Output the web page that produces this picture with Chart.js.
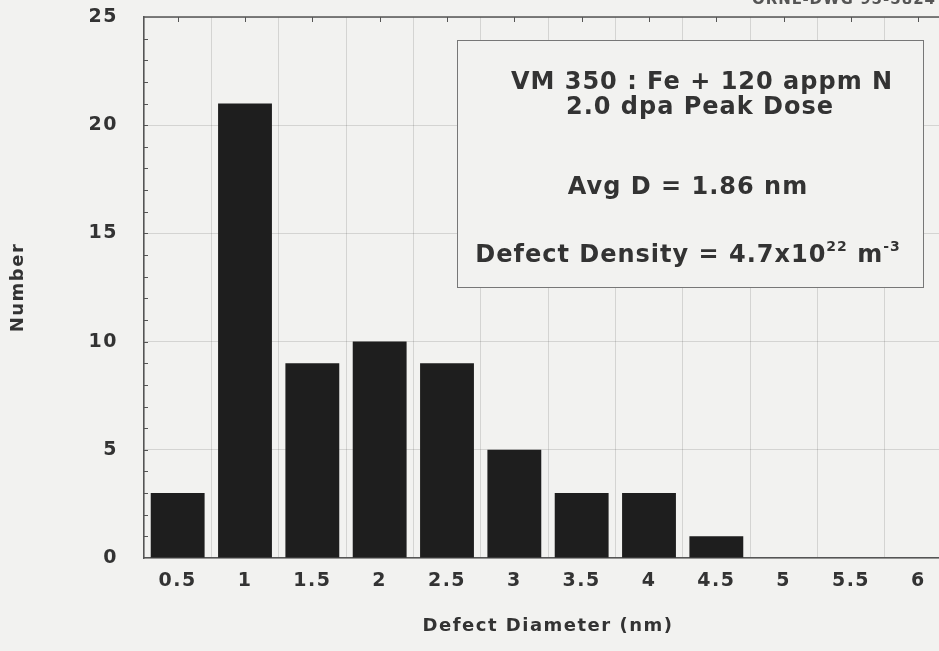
<!DOCTYPE html>
<html>
<head>
<meta charset="utf-8">
<script src="https://cdn.jsdelivr.net/npm/chart.js@4"></script>
<style>
  html, body { margin: 0; padding: 0; background: #f2f2f0; overflow: hidden; }
  canvas { display: block; }
</style>
</head>
<body>
<canvas id="myChart" width="960" height="651"></canvas>
<script>
  // defect diameter bins (nm) and number of defects
  const diameters = ['0.5', '1', '1.5', '2', '2.5', '3', '3.5', '4', '4.5', '5', '5.5', '6'];
  const counts = [3, 21, 9, 10, 9, 5, 3, 3, 1, 0, 0, 0];
  const yTicks = [0, 5, 10, 15, 20, 25];
  const noteLines = ['VM 350 : Fe + 120 appm N', '2.0 dpa Peak Dose', 'Avg D = 1.86 nm'];

  const bg = '#f2f2f0';
  const ink = '#333';
  const gridCol = 'rgba(0,0,0,0.12)';
  const family = '"DejaVu Sans", sans-serif';

  // the scanned lettering is wide and spaced out
  const spacing = {
    id: 'spacing',
    beforeUpdate(chart) { chart.ctx.letterSpacing = '1.5px'; },
    beforeDraw(chart) { chart.ctx.letterSpacing = '1.5px'; }
  };

  const frame = {
    id: 'frame',
    afterDraw(chart) {
      const {ctx, chartArea: a, scales: {x, y}} = chart;
      ctx.save();
      ctx.strokeStyle = '#555';
      ctx.lineWidth = 1.5;
      ctx.beginPath();
      ctx.moveTo(a.left, a.top);
      ctx.lineTo(a.right, a.top);
      ctx.stroke();

      // minor ticks
      ctx.lineWidth = 1;
      ctx.beginPath();
      for (let v = 1; v < 25; v++) {
        const py = Math.round(y.getPixelForValue(v)) + 0.5;
        ctx.moveTo(a.left, py);
        ctx.lineTo(a.left + 4, py);
      }
      for (let i = 0; i < diameters.length; i++) {
        const px = Math.round(x.getPixelForValue(i)) + 0.5;
        ctx.moveTo(px, a.top);
        ctx.lineTo(px, a.top + 5);
      }
      ctx.stroke();

      // note box
      ctx.fillStyle = bg;
      ctx.fillRect(457, 40, 466, 247);
      ctx.strokeStyle = '#777';
      ctx.strokeRect(457.5, 40.5, 466, 247);

      ctx.fillStyle = ink;
      ctx.textBaseline = 'alphabetic';
      ctx.textAlign = 'center';
      ctx.letterSpacing = '1px';
      ctx.font = 'bold 24px ' + family;
      ctx.fillText(noteLines[0], 702, 89);
      ctx.fillText(noteLines[1], 700, 114);
      ctx.fillText(noteLines[2], 688, 194);

      // density line with superscripts
      const parts = [
        ['Defect Density = 4.7x10', 24, 0],
        ['22', 14, -11],
        [' m', 24, 0],
        ['-3', 14, -11]
      ];
      let total = 0;
      parts.forEach(p => {
        ctx.font = 'bold ' + p[1] + 'px ' + family;
        total += ctx.measureText(p[0]).width;
      });
      let px = 688 - total / 2;
      ctx.textAlign = 'left';
      parts.forEach(p => {
        ctx.font = 'bold ' + p[1] + 'px ' + family;
        ctx.fillText(p[0], px, 262 + p[2]);
        px += ctx.measureText(p[0]).width;
      });

      // drawing number, cut off at the top of the scan
      ctx.fillStyle = '#555';
      ctx.textAlign = 'right';
      ctx.font = 'bold 15px ' + family;
      ctx.fillText('ORNL-DWG 95-5824', 936, 4);
      ctx.restore();
    }
  };

  const ctx = document.getElementById('myChart');

  new Chart(ctx, {
    type: 'bar',
    data: {
      labels: diameters,
      datasets: [{
        label: 'Number',
        data: counts,
        backgroundColor: '#1e1e1e',
        barPercentage: 0.8,
        categoryPercentage: 1
      }]
    },
    options: {
      responsive: false,
      animation: false,
      layout: { padding: { top: 17, right: 8, left: 0, bottom: 0 } },
      plugins: {
        legend: { display: false },
        tooltip: { enabled: false }
      },
      scales: {
        x: {
          afterFit(s) { s.height = 93; },
          grid: { color: gridCol, drawTicks: false, offset: true },
          border: { color: '#555', width: 1.5 },
          ticks: { padding: 12, color: ink, font: { family: family, size: 19, weight: 'bold' } },
          title: {
            display: true,
            text: 'Defect Diameter (nm)',
            color: ink,
            padding: { top: 0, bottom: 14 },
            font: { family: family, size: 18, weight: 'bold' }
          }
        },
        y: {
          min: 0,
          max: 25,
          afterBuildTicks(s) { s.ticks = yTicks.map(v => ({ value: v })); },
          afterFit(s) { s.width = 144; },
          grid: { color: gridCol, drawTicks: true, tickLength: 24, tickColor: 'rgba(0,0,0,0)' },
          border: { color: '#555', width: 1.5 },
          ticks: { padding: 2, color: ink, font: { family: family, size: 19, weight: 'bold' } },
          title: {
            display: true,
            text: 'Number',
            color: ink,
            padding: { top: 8, bottom: 0 },
            font: { family: family, size: 18, weight: 'bold' }
          }
        }
      }
    },
    plugins: [spacing, frame]
  });
</script>
</body>
</html>
